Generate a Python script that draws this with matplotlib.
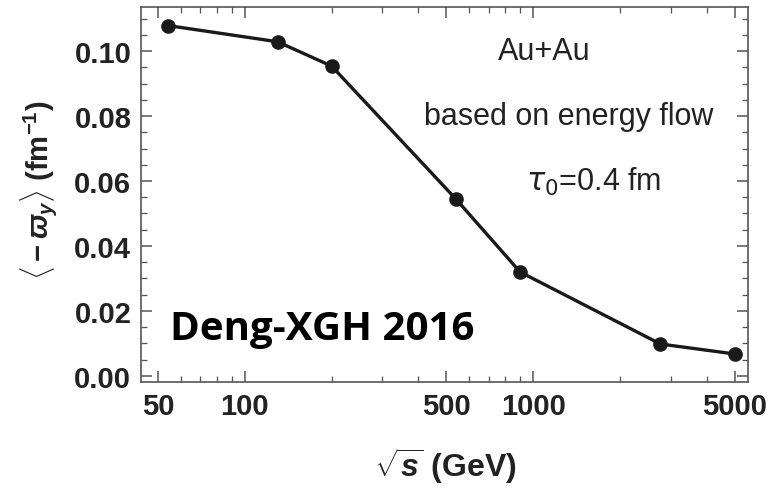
import numpy as np
import matplotlib
matplotlib.use("Agg")
import matplotlib.pyplot as plt
from matplotlib.ticker import FixedLocator, NullFormatter, MultipleLocator

# data
sqrt_s = [54, 130, 200, 540, 900, 2760, 5020]
omega = [0.1079, 0.1029, 0.0954, 0.0544, 0.0320, 0.0098, 0.0067]
xticks = [50, 100, 500, 1000, 5000]
yticks = [0.00, 0.02, 0.04, 0.06, 0.08, 0.10]

plt.rcParams['font.family'] = ['Liberation Sans', 'DejaVu Sans']
plt.rcParams['mathtext.fontset'] = 'custom'
plt.rcParams['mathtext.rm'] = 'Liberation Sans:bold'
plt.rcParams['mathtext.it'] = 'Liberation Sans:italic:bold'
plt.rcParams['mathtext.bf'] = 'Liberation Sans:bold'

fig = plt.figure(figsize=(7.75, 5.02), dpi=100)
ax = fig.add_axes([141/775, 1-383/502, (748-141)/775, (383-8)/502])

ax.plot(sqrt_s, omega, color='#1a1a1a', lw=2.4, marker='o', ms=9.5, zorder=3)

ax.set_xscale('log')
ax.set_xlim(43.7, 5550)
ax.set_ylim(-0.0019, 0.1136)

ax.xaxis.set_major_locator(FixedLocator(xticks))
ax.set_xticklabels([str(t) for t in xticks])
minors = [m * 10**e for e in range(1, 4) for m in range(2, 10)]
ax.xaxis.set_minor_locator(FixedLocator([m for m in minors if 43 < m < 5600 and m not in xticks]))
ax.xaxis.set_minor_formatter(NullFormatter())
ax.yaxis.set_major_locator(FixedLocator(yticks))
ax.set_yticklabels(['%.2f' % t for t in yticks])
ax.yaxis.set_minor_locator(MultipleLocator(0.005))

for s in ax.spines.values():
    s.set_color('#555555')
    s.set_linewidth(1.2)
ax.tick_params(which='both', direction='in', top=True, right=True, color='#555555')
ax.tick_params(which='major', length=8, width=1.1, labelsize=21, pad=7)
ax.tick_params(which='minor', length=4, width=0.9)
for lab in ax.get_xticklabels() + ax.get_yticklabels():
    lab.set_fontweight('bold')
    lab.set_color('#222222')

ann = dict(transform=ax.transAxes, ha='center', va='center', fontsize=22, color='#222222')
ax.text(0.665, 0.883, 'Au+Au', **ann)
ax.text(0.704, 0.709, 'based on energy flow', **ann)
ax.text(0.746, 0.536, r'$\tau_0$=0.4 fm', math_fontfamily='dejavusans', **ann)

fig.text(170/775, 1-330/502, 'Deng-XGH 2016', ha='left', va='center', fontsize=29,
         fontweight='bold', color='black', family=['Open Sans', 'DejaVu Sans'])

fig.text(39/775, 1-190/502, r'$\langle -\varpi_y \rangle$ (fm$^{-1}$)', rotation=90,
         ha='center', va='center', fontsize=21, fontweight='bold', color='#222222')
fig.text(445/775, 1-466/502, r'$\sqrt{s}$ (GeV)', ha='center', va='center',
         fontsize=23, fontweight='bold', color='#222222')

fig.savefig('out.png', dpi=100)
